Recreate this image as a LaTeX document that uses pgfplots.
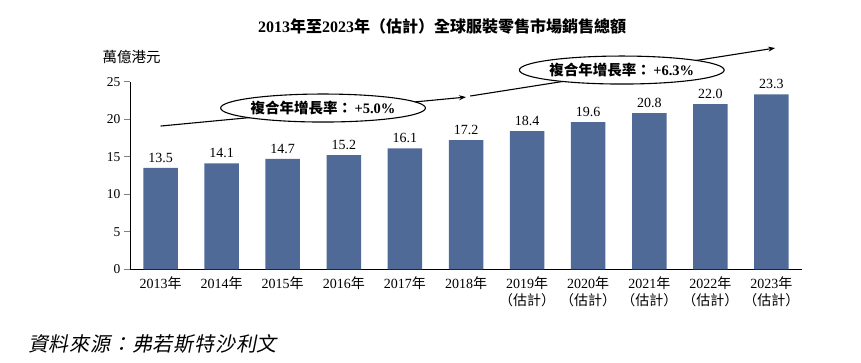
\documentclass[border=0pt]{standalone}
\usepackage{fontspec}
\setmainfont{Liberation Serif}
\newfontfamily\cjk{Noto Sans CJK TC}
\newfontfamily\cjksl{Noto Sans CJK TC}[FakeSlant=0.2, LetterSpace=4]
\usepackage{pgfplots}
\pgfplotsset{compat=1.18}
\usetikzlibrary{arrows.meta,shapes.geometric}
\definecolor{barblue}{HTML}{4F6A96}
\newcommand\zh[1]{{\cjk #1}}
\begin{document}
\begin{tikzpicture}
\path[use as bounding box] (-130pt,-92.7pt) rectangle (731pt,269.3pt);
\begin{axis}[
  scale only axis, width=672pt, height=187.7pt,
  xmin=-0.5, xmax=10.5, ymin=0, ymax=25,
  axis x line*=bottom, axis y line*=left,
  axis line style={line width=0.9pt},
  ytick={0,5,...,25}, tick align=outside, major tick length=6pt,
  y tick style={line width=0.9pt},
  xtick={0,...,10}, x tick style={draw=none},
  xticklabels={{2013\zh{年}},{2014\zh{年}},{2015\zh{年}},{2016\zh{年}},{2017\zh{年}},{2018\zh{年}},
    {2019\zh{年}\\\zh{（估計）}},{2020\zh{年}\\\zh{（估計）}},{2021\zh{年}\\\zh{（估計）}},{2022\zh{年}\\\zh{（估計）}},{2023\zh{年}\\\zh{（估計）}}},
  xticklabel style={align=center, font=\fontsize{14}{17}\selectfont, yshift=2.5pt},
  yticklabel style={font=\fontsize{13.5}{16}\selectfont},
  /pgf/number format/assume math mode=true,
  clip=false,
]
\addplot[ybar, bar width=34.5pt, fill=barblue, draw=none,
  nodes near coords={\pgfmathprintnumber[fixed,fixed zerofill,precision=1,assume math mode=true]{\pgfplotspointmeta}},
  every node near coord/.append style={font=\fontsize{14}{16}\selectfont, text=black, yshift=2pt}]
  coordinates {(0,13.5)(1,14.1)(2,14.7)(3,15.2)(4,16.1)(5,17.2)(6,18.4)(7,19.6)(8,20.8)(9,22.0)(10,23.3)};
\draw[line width=1.1pt, -{Stealth[length=7pt,width=5pt]}] (axis cs:0,19.08) -- (axis cs:5.0,22.94);
\draw[line width=1.1pt, -{Stealth[length=7pt,width=5pt]}] (axis cs:5.07,23.08) -- (axis cs:10.06,29.47);
\node[draw, ellipse, line width=1.1pt, fill=white, minimum width=172pt, minimum height=28pt, inner sep=0pt,
  font=\fontsize{14.5}{16}\selectfont] at (axis cs:2.66,21.48) {\zh{\bfseries 複合年增長率：}\,\textbf{+5.0\%}};
\node[draw, ellipse, line width=1.1pt, fill=white, minimum width=168pt, minimum height=28pt, inner sep=0pt,
  font=\fontsize{14.5}{16}\selectfont] at (axis cs:7.55,26.54) {\zh{\bfseries 複合年增長率：}\,\textbf{+6.3\%}};
\end{axis}
\node[font=\fontsize{16}{18}\selectfont\bfseries] at (312pt,243.3pt) {2013\zh{年至}2023\zh{年（估計）全球服裝零售市場銷售總額}};
\node[font=\fontsize{14.5}{16}\selectfont] at (1.7pt,212.6pt) {\zh{萬億港元}};
\node[anchor=west, font=\fontsize{20}{22}\selectfont, inner sep=0pt] at (-102pt,-74.7pt) {\cjksl 資料來源：弗若斯特沙利文};
\end{tikzpicture}
\end{document}
